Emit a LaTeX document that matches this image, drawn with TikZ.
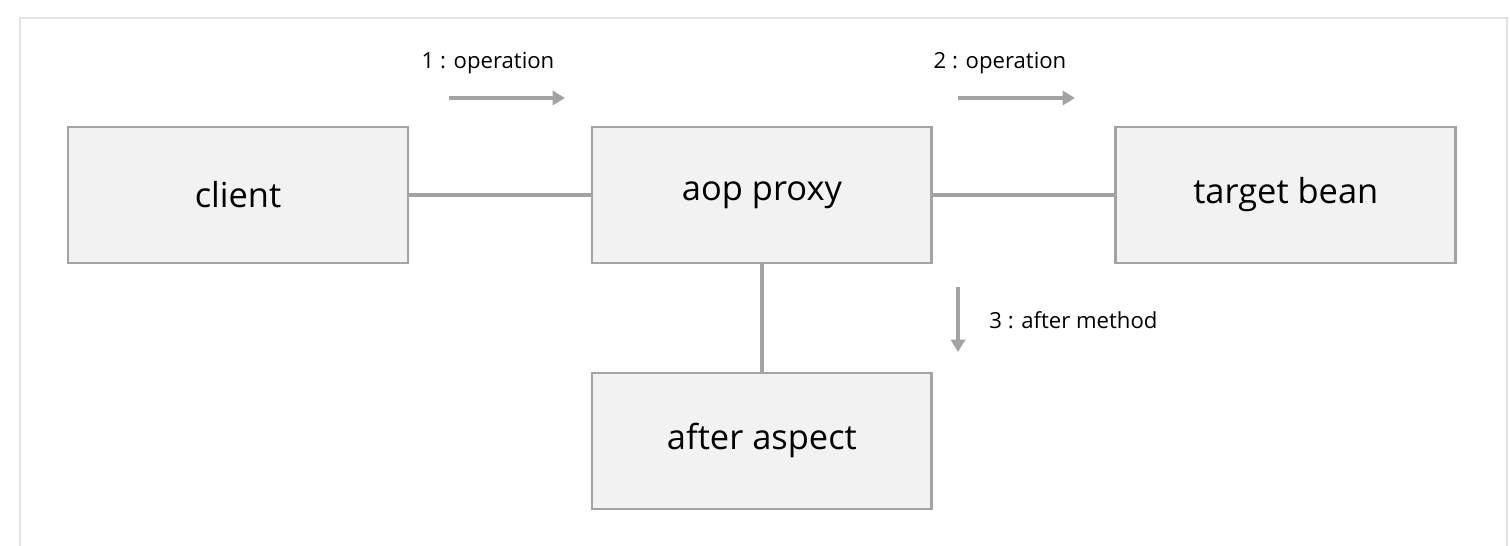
\documentclass[tikz,border=0pt]{standalone}
\usepackage{fontspec}
\setmainfont{Open Sans}
\usepackage{tikz}
\usetikzlibrary{arrows.meta,positioning}
\definecolor{AopPanel}{HTML}{F2F2F2}
\definecolor{AopLine}{HTML}{A3A3A3}
\definecolor{AopFrame}{HTML}{E2E2E2}

\begin{document}
\begin{tikzpicture}[x=0.02cm, y=-0.02cm, node distance=2.144cm and 3.624cm,
  box/.style={draw=AopLine, fill=AopPanel, line width=1.6pt, minimum width=6.8cm,
    minimum height=2.72cm, inner sep=0pt, font=\fontsize{19.6}{22}\selectfont},
  link/.style={AopLine, line width=2.2pt},
  flow/.style={-{Triangle[length=7pt, width=8pt]}, AopLine, line width=2.2pt},
  tag/.style={font=\fontsize{12.6}{14}\selectfont, inner sep=0pt}]
  \useasboundingbox (0,0) rectangle (1510,546);
  \draw[AopFrame, line width=1.6pt] (20,550) -- (20,18) -- (1507,18) -- (1507,550);
  \node[box] (client) at (238,195) {client};
  \node[box, right=of client] (proxy) {aop proxy};
  \node[box, right=of proxy] (target) {target bean};
  \node[box, below=of proxy] (aspect) {after aspect};
  \draw[link] (client) -- (proxy);
  \draw[link] (proxy) -- (target);
  \draw[link] (proxy) -- (aspect);
  % call order
  \coordinate (op1a) at (449,98);
  \coordinate (op1b) at (565,98);
  \coordinate (op2a) at (958,98);
  \coordinate (op2b) at (1075,98);
  \coordinate (op3a) at (958,287);
  \coordinate (op3b) at (958,352);
  \draw[flow] (op1a) -- (op1b);
  \draw[flow] (op2a) -- (op2b);
  \draw[flow] (op3a) -- (op3b);
  \node[tag] (op1) at (488,63) {1 : operation};
  \node[tag] (op2) at (1000,63) {2 : operation};
  \node[tag, anchor=west] (op3) at (989,320) {3 : after method};
\end{tikzpicture}
\end{document}
